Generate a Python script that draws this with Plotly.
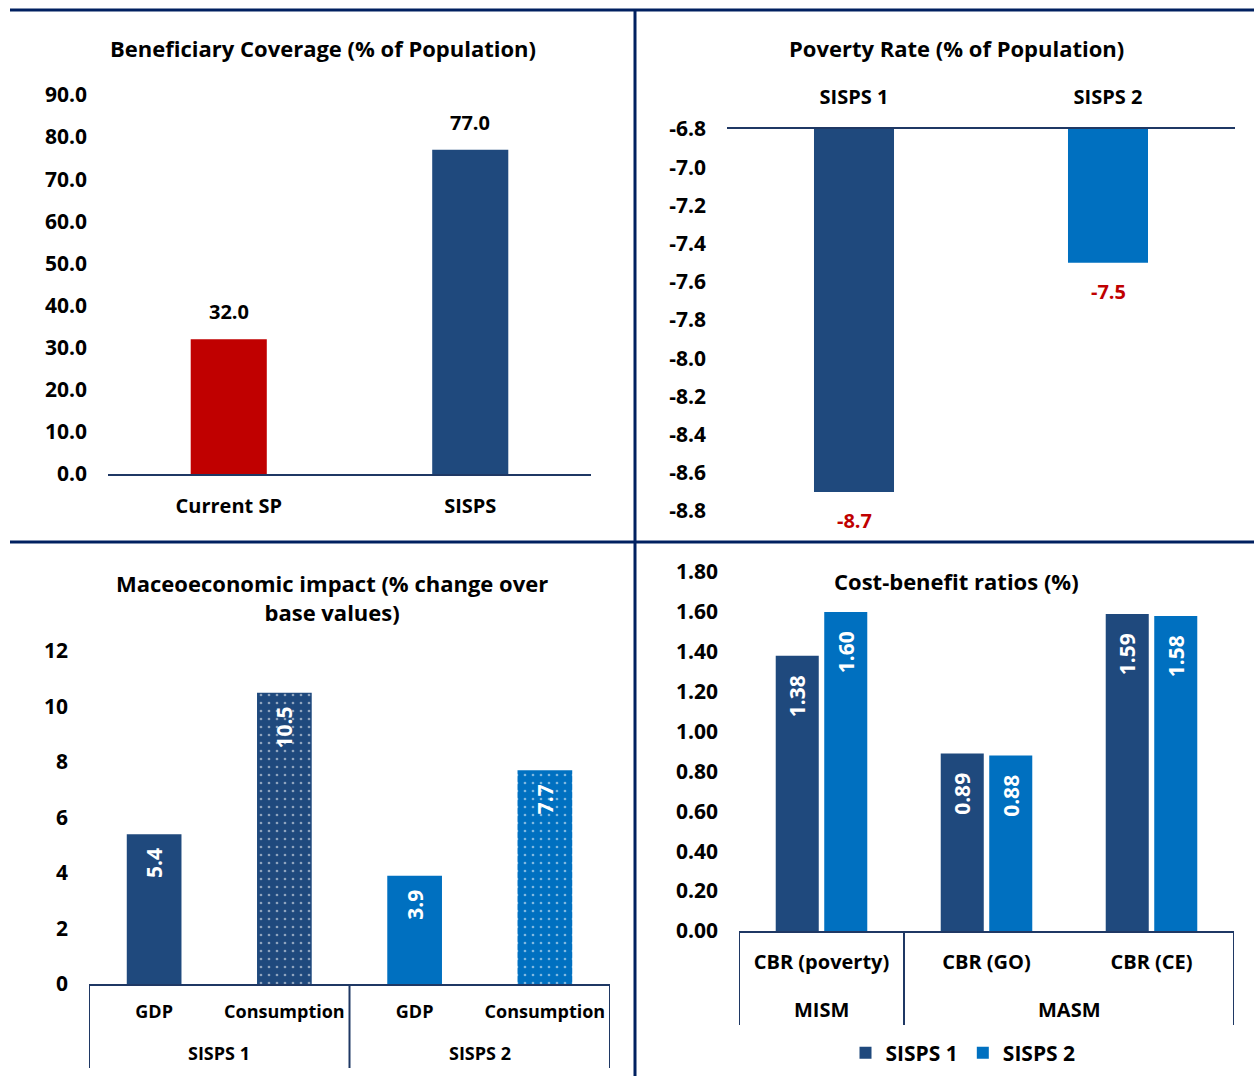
import plotly.graph_objects as go

# ---- data ----
coverage_cats = ["Current SP", "SISPS"]
coverage_vals = [32.0, 77.0]
coverage_ticks = [0, 10, 20, 30, 40, 50, 60, 70, 80, 90]

poverty_cats = ["SISPS 1", "SISPS 2"]
poverty_vals = [-8.7, -7.5]
poverty_ticks = [-6.8, -7.0, -7.2, -7.4, -7.6, -7.8, -8.0, -8.2, -8.4, -8.6, -8.8]

macro_groups = ["SISPS 1", "SISPS 1", "SISPS 2", "SISPS 2"]
macro_items = ["GDP", "Consumption", "GDP", "Consumption"]
macro_vals = [5.4, 10.5, 3.9, 7.7]
macro_ticks = [0, 2, 4, 6, 8, 10, 12]

cbr_groups = ["MISM", "MASM", "MASM"]
cbr_items = ["CBR (poverty)", "CBR (GO)", "CBR (CE)"]
cbr_sisps1 = [1.38, 0.89, 1.59]
cbr_sisps2 = [1.60, 0.88, 1.58]
cbr_ticks = [0.0, 0.2, 0.4, 0.6, 0.8, 1.0, 1.2, 1.4, 1.6, 1.8]

# ---- styling ----
W, H = 1254, 1076
DARK = "#1F497D"
LIGHT = "#0070C0"
RED = "#C00000"
NAVY = "#002060"
AXIS = "#1F3864"
FONT = "Open Sans"
NB = "\u00a0"


def px_x(p):
    return p / W


def px_y(p):
    return 1 - p / H


def fnt(size, color="black"):
    return dict(family=FONT, size=size, color=color, weight="bold")


fig = go.Figure()

# Panel 1: beneficiary coverage
fig.add_trace(go.Bar(
    x=coverage_cats, y=coverage_vals, xaxis="x", yaxis="y",
    marker=dict(color=[RED, DARK], line=dict(width=0)),
    width=0.315, showlegend=False, hoverinfo="x+y",
))
for c, v in zip(coverage_cats, coverage_vals):
    fig.add_annotation(x=c, y=v, xref="x", yref="y", text=f"{v:.1f}",
                       showarrow=False, yanchor="bottom", yshift=12,
                       font=fnt(20))

# Panel 2: poverty rate (bars hang from the top of the axis)
fig.add_trace(go.Bar(
    x=poverty_cats, y=poverty_vals, xaxis="x2", yaxis="y2",
    marker=dict(color=[DARK, LIGHT], line=dict(width=0)),
    width=0.315, showlegend=False, hoverinfo="x+y",
))
for c, v in zip(poverty_cats, poverty_vals):
    fig.add_annotation(x=c, y=v, xref="x2", yref="y2", text=f"{v:.1f}",
                       showarrow=False, yanchor="top", yshift=-13,
                       font=fnt(20, RED))

# Panel 3: macroeconomic impact
macro_keys = [f"{g} {i}" for g, i in zip(macro_groups, macro_items)]
fig.add_trace(go.Bar(
    x=macro_keys, y=macro_vals, xaxis="x3", yaxis="y3",
    marker=dict(
        color=[DARK, DARK, LIGHT, LIGHT], line=dict(width=0),
        pattern=dict(shape=["", ".", "", "."], fgcolor="white",
                     size=8, solidity=0.09, fillmode="overlay"),
    ),
    width=0.42, texttemplate="%{y:.1f}" + NB * 2, textposition="inside",
    insidetextanchor="end", textangle=-90, textfont=fnt(21, "white"),
    showlegend=False, hoverinfo="x+y",
))

# Panel 4: cost-benefit ratios
cbr_keys = [f"{g} {i}" for g, i in zip(cbr_groups, cbr_items)]
for name, vals, col in (("SISPS 1", cbr_sisps1, DARK), ("SISPS 2", cbr_sisps2, LIGHT)):
    fig.add_trace(go.Bar(
        name=name, x=cbr_keys, y=vals, xaxis="x4", yaxis="y4",
        marker=dict(color=col, line=dict(width=0)),
        texttemplate="%{y:.2f}" + NB * 3, textposition="inside",
        insidetextanchor="end", textangle=-90, textfont=fnt(21, "white"),
        hoverinfo="x+y+name",
    ))

common_y = dict(showgrid=False, zeroline=False, showline=False,
                tickfont=fnt(21), ticks="", ticklabelstandoff=20,
                automargin=False)
common_x = dict(showgrid=False, zeroline=False, showline=True,
                linecolor=AXIS, linewidth=2, ticks="", tickfont=fnt(20),
                automargin=False)

fig.update_layout(
    width=W, height=H,
    margin=dict(l=0, r=0, t=0, b=0, autoexpand=False),
    paper_bgcolor="white", plot_bgcolor="rgba(0,0,0,0)",
    barmode="group", bargap=0.412, bargroupgap=0.113,
    font=dict(family=FONT, color="black"),
    xaxis=dict(domain=[px_x(108), px_x(591)], anchor="y",
               range=[-0.5, 1.5], ticklabelstandoff=13, **common_x),
    yaxis=dict(domain=[px_y(474), px_y(95)], anchor="x", range=[0, 90],
               tickvals=coverage_ticks,
               ticktext=[f"{t:.1f}" for t in coverage_ticks], **common_y),
    xaxis2=dict(domain=[px_x(727), px_x(1235)], anchor="y2", side="top",
                range=[-0.5, 1.5], ticklabelstandoff=15, **common_x),
    yaxis2=dict(domain=[px_y(511), px_y(129)], anchor="x2",
                range=[-8.8, -6.8], tickvals=poverty_ticks,
                ticktext=[f"{t:.1f}" for t in poverty_ticks], **common_y),
    xaxis3=dict(domain=[px_x(89), px_x(610)], anchor="y3",
                range=[-0.5, 3.5], tickvals=macro_keys, ticktext=macro_items,
                ticklabelstandoff=10,
                **{**common_x, "tickfont": fnt(18)}),
    yaxis3=dict(domain=[px_y(984), px_y(651)], anchor="x3", range=[0, 12],
                tickvals=macro_ticks, **common_y),
    xaxis4=dict(domain=[px_x(739), px_x(1234)], anchor="y4",
                range=[-0.5, 2.5], tickvals=cbr_keys, ticktext=cbr_items,
                ticklabelstandoff=12, **common_x),
    yaxis4=dict(domain=[px_y(931), px_y(572)], anchor="x4", range=[0, 1.8],
                tickvals=cbr_ticks,
                ticktext=[f"{t:.2f}" for t in cbr_ticks], **common_y),
    legend=dict(orientation="h", x=px_x(963), xanchor="center",
                y=px_y(1053), yanchor="middle", font=fnt(21),
                itemwidth=30, tracegroupgap=0),
)

# Group labels and dividers under the category axes
def group_boxes(xref, groups, y_label, y_top, y_bottom, size):
    spans = []
    for idx, g in enumerate(groups):
        if spans and spans[-1][0] == g:
            spans[-1][2] = idx
        else:
            spans.append([g, idx, idx])
    edges = [spans[0][1] - 0.5] + [s[2] + 0.5 for s in spans]
    for g, a, b in spans:
        fig.add_annotation(x=(a + b) / 2, y=px_y(y_label), xref=xref,
                           yref="paper", text=g, showarrow=False,
                           font=fnt(size), yanchor="middle")
    for e in edges:
        fig.add_shape(type="line", xref=xref, yref="paper", x0=e, x1=e,
                      y0=px_y(y_top), y1=px_y(y_bottom),
                      line=dict(color=AXIS, width=2))


group_boxes("x3", macro_groups, 1053, 985, 1068, 18)
group_boxes("x4", cbr_groups, 1009, 932, 1025, 20)

titles = [
    ("Beneficiary Coverage (% of Population)", 323, 48),
    ("Poverty Rate (% of Population)", 956, 48),
    ("Maceoeconomic impact (% change over<br>base values)", 332, 597),
    ("Cost-benefit ratios (%)", 956, 581),
]
for text, xp, yp in titles:
    fig.add_annotation(text=text, x=px_x(xp), y=px_y(yp), xref="paper",
                       yref="paper", showarrow=False, font=fnt(22),
                       xanchor="center", yanchor="middle", align="center")

# panel separators
line_style = dict(color=NAVY, width=3)
fig.add_shape(type="line", xref="paper", yref="paper",
              x0=px_x(10), x1=1, y0=px_y(10), y1=px_y(10), line=line_style)
fig.add_shape(type="line", xref="paper", yref="paper",
              x0=px_x(10), x1=1, y0=px_y(542), y1=px_y(542), line=line_style)
fig.add_shape(type="line", xref="paper", yref="paper",
              x0=px_x(635), x1=px_x(635), y0=px_y(10), y1=0, line=line_style)

fig.write_html("out.html")
